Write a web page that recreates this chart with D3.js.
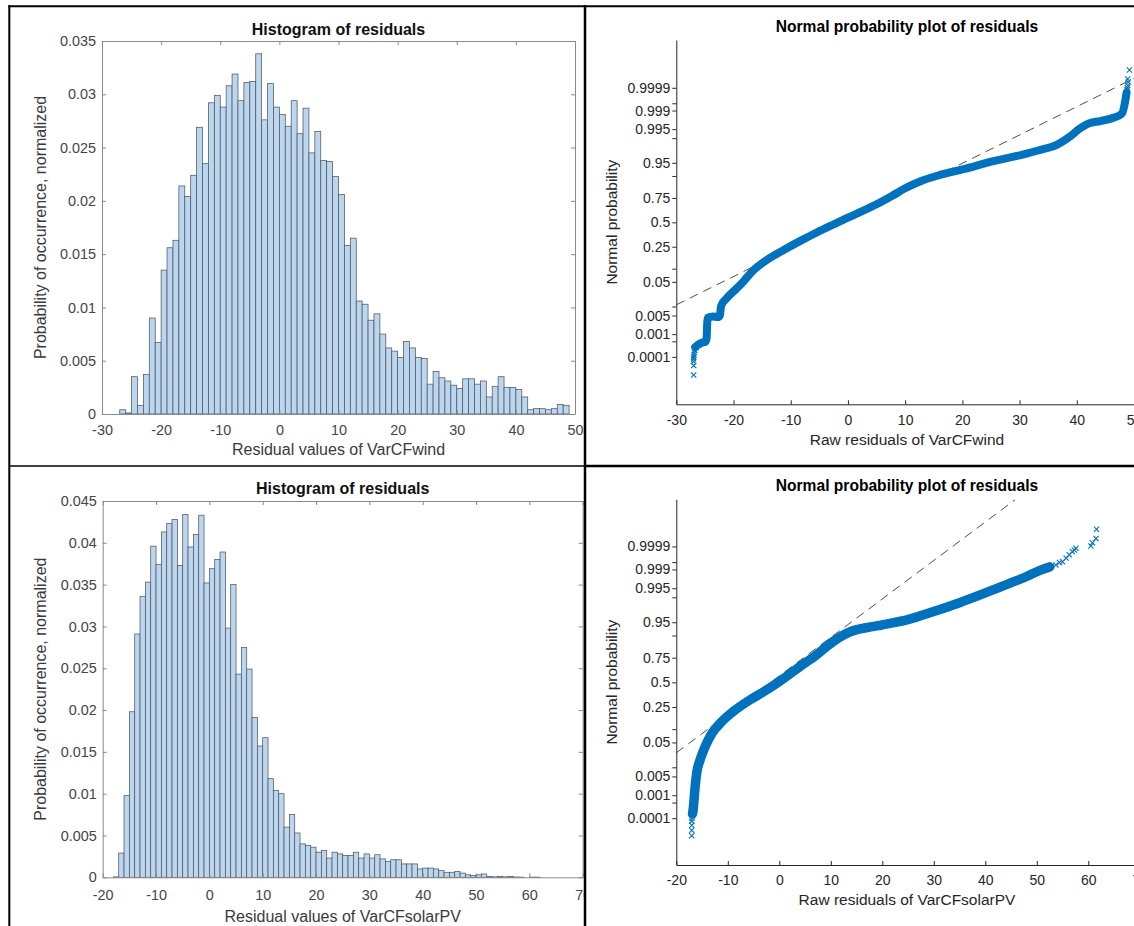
<!DOCTYPE html>
<html><head><meta charset="utf-8">
<script src="https://cdn.jsdelivr.net/npm/d3@7"></script>
<style>
html,body{margin:0;padding:0;background:#fff;}
svg{display:block;font-family:"Liberation Sans",Arial,Helvetica,sans-serif;}
</style></head><body>
<svg id="chart" width="1134" height="926"></svg>
<script>
// ---------------- DATA ----------------
const windBinStart = -27;
const windBinWidth = 1;
const windProb = [0.0004,0.0001,0.0035,0.0008,0.0037,0.0090,0.0067,0.0135,0.0156,0.0163,
  0.0214,0.0204,0.0224,0.0269,0.0235,0.0292,0.0299,0.0288,0.0308,0.0319,
  0.0294,0.0311,0.0312,0.0338,0.0276,0.0310,0.0288,0.0281,0.0270,0.0294,
  0.0263,0.0287,0.0245,0.0265,0.0238,0.0237,0.0223,0.0206,0.0158,0.0165,
  0.0106,0.0103,0.0088,0.0094,0.0075,0.0062,0.0059,0.0053,0.0068,0.0062,
  0.0053,0.0052,0.0028,0.0040,0.0034,0.0031,0.0027,0.0024,0.0033,0.0033,
  0.0028,0.0031,0.0016,0.0026,0.0035,0.0025,0.0025,0.0023,0.0016,0.0004,
  0.0005,0.0005,0.0004,0.0005,0.0009,0.0008];
const windXTicks = [-30,-20,-10,0,10,20,30,40,50];
const windYTicks = [0,0.005,0.01,0.015,0.02,0.025,0.03,0.035];

const solarBinStart = -18;
const solarBinWidth = 1;
const solarProb = [0.00005,0.0029,0.0098,0.0198,0.0291,0.0336,0.0353,0.0396,0.0374,0.0413,
  0.0423,0.0428,0.0373,0.0434,0.0395,0.0410,0.0433,0.0352,0.0369,0.0380,
  0.0389,0.0298,0.0350,0.0243,0.0275,0.0249,0.0191,0.0157,0.0167,0.0118,
  0.0104,0.0100,0.0060,0.0075,0.0053,0.0040,0.0038,0.0036,0.0030,0.0032,
  0.0023,0.0030,0.0028,0.0026,0.0026,0.0030,0.0023,0.0028,0.0023,0.0027,
  0.0022,0.0019,0.0021,0.0021,0.0016,0.0016,0.0016,0.0010,0.0011,0.0011,
  0.0010,0.0008,0.0006,0.0006,0.0007,0.0005,0.0003,0.0002,0.0003,0.0004,
  0.0001,0.00005,0.0001,0.00005,0.0001,0.00003,0.00002,0,0.00002,0.00002];
const solarXTicks = [-20,-10,0,10,20,30,40,50,60,70];
const solarYTicks = [0,0.005,0.01,0.015,0.02,0.025,0.03,0.035,0.04,0.045];

// normal probability axis ticks
const probTicks = [0.0001,0.0005,0.001,0.005,0.01,0.05,0.1,0.25,0.5,0.75,0.9,0.95,0.99,0.995,0.999,0.9995,0.9999];
const probTickLabels = ["0.0001","","0.001","0.005","","0.05","","0.25","0.5","0.75","","0.95","","0.995","0.999","","0.9999"];

// sorted residual vs. normal quantile (z)
const windQQBand = [[-26.7,-3.45],[-26.2,-3.38],[-25.5,-3.32],[-24.9,-3.3],[-24.7,-3.2],[-24.6,-2.8],
  [-24.5,-2.64],[-23.6,-2.6],[-22.7,-2.62],[-22.4,-2.58],[-22.15,-2.3],[-21.2,-2.1],[-19.4,-1.82],
  [-18.3,-1.64],[-16.5,-1.32],[-14.2,-1.04],[-11.3,-0.77],[-8.4,-0.52],[-5.45,-0.28],[-2.55,-0.06],
  [0,0.13],[2.1,0.28],[5.0,0.5],[7.9,0.75],[10.0,0.94],[12.9,1.15],[16.1,1.31],[20.2,1.47],
  [25.4,1.69],[30.2,1.86],[33.6,2.0],[36.5,2.14],[38.8,2.37],[40.6,2.60],[42.0,2.73],[44.1,2.80],
  [46.4,2.89],[47.9,3.01],[48.4,3.3],[48.7,3.58]];
const windQQMarkers = [[-26.96,-4.22],[-26.96,-3.96],[-27.0,-3.85],[-27.0,-3.78],[-26.95,-3.72],
  [-26.9,-3.66],[-26.85,-3.6],[-26.75,-3.54],[-26.5,-3.46],[-26.1,-3.4],[-25.7,-3.36],
  [48.75,3.66],[48.85,3.72],[48.9,3.78],[49.0,3.88],[48.9,3.96],[49.2,4.21]];
const windRefLine = [[-30,-2.28],[50,3.98]];

const solarQQBand = [[-16.85,-3.6],[-16.7,-3.45],[-16.4,-2.95],[-16.05,-2.49],[-15.4,-2.13],
  [-14.4,-1.76],[-13.1,-1.40],[-11.2,-1.08],[-8.95,-0.80],[-5.7,-0.48],[-2.5,-0.21],[0,0.02],
  [4.0,0.43],[7.2,0.75],[10.4,1.11],[13.7,1.38],[17.5,1.51],[19.9,1.57],[25.3,1.73],[29.8,1.93],
  [35.0,2.18],[39.9,2.44],[44.7,2.71],[47.9,2.89],[50.5,3.06],[52.5,3.16]];
const solarQQMarkers = [[-17.0,-4.20],[-17.0,-4.05],[-17.0,-3.91],[-17.0,-3.8],[-16.95,-3.72],
  [-16.9,-3.65],[52.8,3.17],[53.7,3.21],[54.4,3.28],[55.0,3.3],[55.7,3.40],[56.3,3.49],
  [56.9,3.58],[57.3,3.62],[57.6,3.67],[60.5,3.73],[60.8,3.82],[61.5,3.94],[61.6,4.19]];
const solarRefLine = [[-20,-1.93],[45.8,5.0]];

const windXTicksQQ = [-30,-20,-10,0,10,20,30,40,50];
const solarXTicksQQ = [-20,-10,0,10,20,30,40,50,60,70];

// ---------------- HELPERS ----------------
function norminv(p){
  const a=[-3.969683028665376e+01,2.209460984245205e+02,-2.759285104469687e+02,1.383577518672690e+02,-3.066479806614716e+01,2.506628277459239e+00];
  const b=[-5.447609879822406e+01,1.615858368580409e+02,-1.556989798598866e+02,6.680131188771972e+01,-1.328068155288572e+01];
  const c=[-7.784894002430293e-03,-3.223964580411365e-01,-2.400758277161838e+00,-2.549732539343734e+00,4.374664141464968e+00,2.938163982698783e+00];
  const d=[7.784695709041462e-03,3.224671290700398e-01,2.445134137142996e+00,3.754408661907416e+00];
  const pl=0.02425, ph=1-pl; let q,r;
  if(p<pl){q=Math.sqrt(-2*Math.log(p));return (((((c[0]*q+c[1])*q+c[2])*q+c[3])*q+c[4])*q+c[5])/((((d[0]*q+d[1])*q+d[2])*q+d[3])*q+1);}
  if(p<=ph){q=p-0.5;r=q*q;return (((((a[0]*r+a[1])*r+a[2])*r+a[3])*r+a[4])*r+a[5])*q/(((((b[0]*r+b[1])*r+b[2])*r+b[3])*r+b[4])*r+1);}
  q=Math.sqrt(-2*Math.log(1-p));return -(((((c[0]*q+c[1])*q+c[2])*q+c[3])*q+c[4])*q+c[5])/((((d[0]*q+d[1])*q+d[2])*q+d[3])*q+1);
}

const svg = d3.select("#chart");
svg.append("rect").attr("width",1134).attr("height",926).attr("fill","#fff");
const defs = svg.append("defs");
function clip(id,x,y,w,h){ defs.append("clipPath").attr("id",id).append("rect").attr("x",x).attr("y",y).attr("width",w).attr("height",h); }
clip("cTL",10,7,574,458); clip("cBL",10,467,574,459);
clip("cTR",586,7,548,458); clip("cBR",586,467,548,459);

function styleAxis(sel, lineColor, textColor, fs){
  sel.attr("font-family",null).attr("font-size",fs);
  sel.select(".domain").attr("stroke",lineColor).attr("stroke-width",1);
  sel.selectAll(".tick line").attr("stroke",lineColor).attr("stroke-width",1);
  sel.selectAll(".tick text").attr("fill",textColor);
}

function drawHist(cfg){
  const g = svg.append("g").attr("clip-path",`url(#${cfg.clip})`);
  const x = d3.scaleLinear().domain(cfg.xDomain).range([cfg.left,cfg.right]);
  const y = d3.scaleLinear().domain(cfg.yDomain).range([cfg.bottom,cfg.top]);
  g.append("g").selectAll("rect").data(cfg.values).join("rect")
    .attr("x",(d,i)=>x(cfg.binStart+i*cfg.binWidth))
    .attr("width",(d,i)=>x(cfg.binStart+(i+1)*cfg.binWidth)-x(cfg.binStart+i*cfg.binWidth))
    .attr("y",d=>y(d)).attr("height",d=>y(0)-y(d))
    .attr("fill","#bcd6ef").attr("stroke","#4f5860").attr("stroke-width",0.75);
  const lc="#8a8a8a", tc="#454545", fs=14.4;
  const yfmt = d=> d===0 ? "0" : String(+d.toFixed(3));
  g.append("g").attr("transform",`translate(0,${cfg.bottom})`)
    .call(d3.axisBottom(x).tickValues(cfg.xTicks).tickFormat(d=>String(d)).tickSizeInner(-4).tickSizeOuter(0).tickPadding(cfg.xPad))
    .call(s=>styleAxis(s,lc,tc,fs));
  g.append("g").attr("transform",`translate(0,${cfg.top})`)
    .call(d3.axisTop(x).tickValues(cfg.xTicks).tickFormat("").tickSizeInner(-4).tickSizeOuter(0))
    .call(s=>styleAxis(s,lc,tc,fs));
  g.append("g").attr("transform",`translate(${cfg.left},0)`)
    .call(d3.axisLeft(y).tickValues(cfg.yTicks).tickFormat(yfmt).tickSizeInner(-4).tickSizeOuter(0).tickPadding(6))
    .call(s=>styleAxis(s,lc,tc,fs));
  g.append("g").attr("transform",`translate(${cfg.right},0)`)
    .call(d3.axisRight(y).tickValues(cfg.yTicks).tickFormat("").tickSizeInner(-4).tickSizeOuter(0))
    .call(s=>styleAxis(s,lc,tc,fs));
  g.append("text").attr("x",(cfg.left+cfg.right)/2).attr("y",cfg.titleY).attr("text-anchor","middle")
    .attr("font-weight","bold").attr("font-size",16).attr("fill","#111").text(cfg.title);
  g.append("text").attr("x",(cfg.left+cfg.right)/2).attr("y",cfg.xLabelY).attr("text-anchor","middle")
    .attr("font-size",16).attr("fill","#3a3a3a").text(cfg.xLabel);
  g.append("text").attr("transform",`translate(${cfg.yLabelX},${(cfg.top+cfg.bottom)/2}) rotate(-90)`)
    .attr("text-anchor","middle").attr("font-size",16).attr("fill","#3a3a3a").text(cfg.yLabel);
}

function drawProb(cfg){
  const g = svg.append("g").attr("clip-path",`url(#${cfg.clip})`);
  const x = d3.scaleLinear().domain(cfg.xDomain).range([cfg.left,cfg.right]);
  const y = d3.scaleLinear().domain(cfg.zDomain).range([cfg.bottom,cfg.top]);
  const plot = g.append("g");
  const pc = plot.append("clipPath").attr("id",cfg.clip+"p");
  pc.append("rect").attr("x",cfg.left).attr("y",cfg.top).attr("width",cfg.right-cfg.left).attr("height",cfg.bottom-cfg.top);
  const inner = plot.append("g").attr("clip-path",`url(#${cfg.clip}p)`);
  const ref = d3.line().x(d=>x(d[0])).y(d=>y(d[1]));
  const line = d3.line().x(d=>x(d[0])).y(d=>y(d[1])).curve(d3.curveMonotoneX);
  inner.append("path").attr("d",ref(cfg.ref)).attr("fill","none")
    .attr("stroke","#3a3a3a").attr("stroke-width",0.9).attr("stroke-dasharray","9,6");
  inner.append("path").attr("d",line(cfg.band)).attr("fill","none")
    .attr("stroke","#0072BD").attr("stroke-width",cfg.bandWidth)
    .attr("stroke-linecap","round").attr("stroke-linejoin","round");
  const s=2.6;
  inner.append("g").selectAll("path").data(cfg.markers).join("path")
    .attr("transform",d=>`translate(${x(d[0])},${y(d[1])})`)
    .attr("d",`M${-s},${-s}L${s},${s}M${-s},${s}L${s},${-s}`)
    .attr("fill","none").attr("stroke","#0072BD").attr("stroke-width",1.1);
  const lc="#262626", tc="#262626", fs=14;
  g.append("g").attr("transform",`translate(0,${cfg.bottom})`)
    .call(d3.axisBottom(x).tickValues(cfg.xTicks).tickFormat(d=>String(d)).tickSizeInner(-4).tickSizeOuter(0).tickPadding(cfg.xPad))
    .call(s=>styleAxis(s,lc,tc,fs));
  g.append("g").attr("transform",`translate(${cfg.left},0)`)
    .call(d3.axisLeft(y).tickValues(probTicks.map(norminv)).tickFormat((d,i)=>probTickLabels[i]).tickSizeInner(4).tickSizeOuter(0).tickPadding(2))
    .call(s=>styleAxis(s,lc,tc,fs));
  const cx = 907;
  g.append("text").attr("x",cx).attr("y",cfg.titleY).attr("text-anchor","middle")
    .attr("font-weight","bold").attr("font-size",15.6).attr("fill","#000").text(cfg.title);
  g.append("text").attr("x",cx).attr("y",cfg.xLabelY).attr("text-anchor","middle")
    .attr("font-size",15.5).attr("fill","#262626").text(cfg.xLabel);
  g.append("text").attr("transform",`translate(${cfg.yLabelX},${(cfg.top+cfg.bottom)/2}) rotate(-90)`)
    .attr("text-anchor","middle").attr("font-size",15.5).attr("fill","#262626").text(cfg.yLabel);
}

// ---------------- PANELS ----------------
drawHist({clip:"cTL", left:102, right:575, top:41, bottom:414,
  xDomain:[-30,50], yDomain:[0,0.035], values:windProb, binStart:windBinStart, binWidth:windBinWidth,
  xTicks:windXTicks, yTicks:windYTicks, xPad:11.0, titleY:35, xLabelY:455, yLabelX:46,
  title:"Histogram of residuals", xLabel:"Residual values of VarCFwind",
  yLabel:"Probability of occurrence, normalized"});

drawHist({clip:"cBL", left:102.7, right:582.7, top:501, bottom:877.3,
  xDomain:[-20,70], yDomain:[0,0.045], values:solarProb, binStart:solarBinStart, binWidth:solarBinWidth,
  xTicks:solarXTicks, yTicks:solarYTicks, xPad:12.5, titleY:494, xLabelY:922, yLabelX:46,
  title:"Histogram of residuals", xLabel:"Residual values of VarCFsolarPV",
  yLabel:"Probability of occurrence, normalized"});

drawProb({clip:"cTR", left:676.3, right:1134, top:40, bottom:404.3,
  xDomain:[-30,50], zDomain:[-5.03,5.04], band:windQQBand, markers:windQQMarkers, ref:windRefLine,
  bandWidth:8, xTicks:windXTicksQQ, xPad:11.0, titleY:32, xLabelY:445, yLabelX:617,
  title:"Normal probability plot of residuals", xLabel:"Raw residuals of VarCFwind", yLabel:"Normal probability"});

drawProb({clip:"cBR", left:676.3, right:1139.8, top:499.3, bottom:865,
  xDomain:[-20,70], zDomain:[-5.0,5.01], band:solarQQBand, markers:solarQQMarkers, ref:solarRefLine,
  bandWidth:9.5, xTicks:solarXTicksQQ, xPad:10.0, titleY:491, xLabelY:905, yLabelX:617,
  title:"Normal probability plot of residuals", xLabel:"Raw residuals of VarCFsolarPV", yLabel:"Normal probability"});

// ---------------- FRAME LINES ----------------
const frame = svg.append("g").attr("stroke","#000").attr("fill","none");
frame.append("line").attr("x1",8.3).attr("x2",1134).attr("y1",6.3).attr("y2",6.3).attr("stroke-width",2);
frame.append("line").attr("x1",9.3).attr("x2",9.3).attr("y1",5.3).attr("y2",926).attr("stroke-width",2);
frame.append("line").attr("x1",585).attr("x2",585).attr("y1",5.3).attr("y2",926).attr("stroke-width",2.5);
frame.append("line").attr("x1",9.3).attr("x2",585).attr("y1",466).attr("y2",466).attr("stroke-width",1.5);
frame.append("line").attr("x1",585).attr("x2",1134).attr("y1",466).attr("y2",466).attr("stroke-width",2.5);
</script>
</body></html>
